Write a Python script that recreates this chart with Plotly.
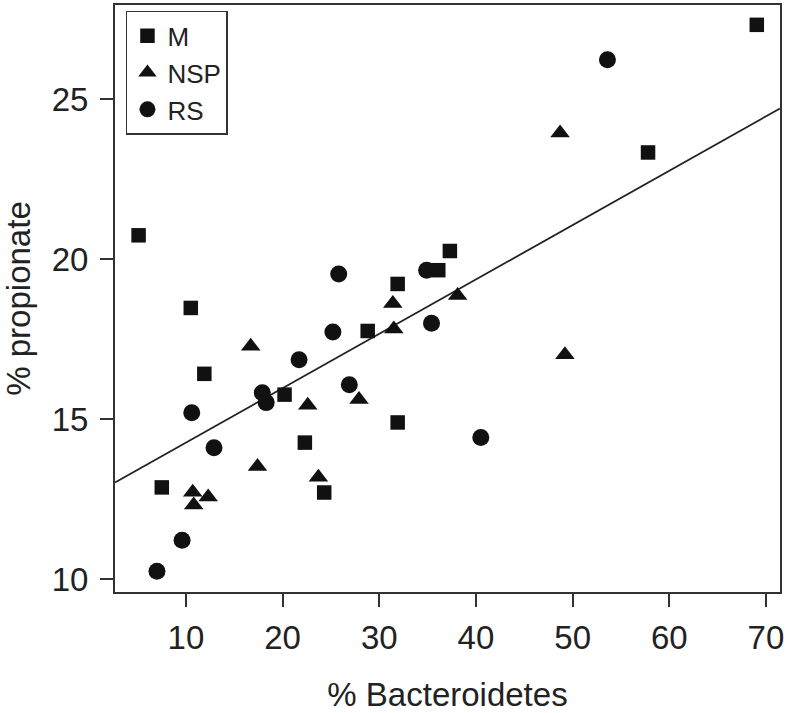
import plotly.graph_objects as go

# --- data ---
m_x = [5.1, 10.5, 11.9, 7.5, 20.2, 22.3, 24.3, 28.8, 31.9, 31.9, 36.1, 37.3, 57.8, 69.05]
m_y = [20.75, 18.48, 16.42, 12.87, 15.77, 14.27, 12.71, 17.76, 19.23, 14.9, 19.66, 20.26, 23.34, 27.33]

nsp_x = [10.7, 10.8, 12.3, 16.7, 17.4, 22.6, 23.7, 27.9, 31.4, 31.5, 38.1, 48.7, 49.2]
nsp_y = [12.72, 12.32, 12.57, 17.28, 13.52, 15.44, 13.19, 15.62, 18.62, 17.82, 18.87, 23.95, 17.02]

rs_x = [7.0, 9.6, 10.6, 12.9, 17.9, 18.3, 21.7, 25.2, 25.8, 26.9, 34.9, 35.4, 40.5, 53.6]
rs_y = [10.25, 11.22, 15.2, 14.11, 15.83, 15.52, 16.86, 17.73, 19.54, 16.08, 19.66, 18.0, 14.43, 26.24]

fit_intercept = 12.57
fit_slope = 0.17

x_range = [2.66, 71.45]
y_range = [9.6, 27.95]
x_ticks = [10, 20, 30, 40, 50, 60, 70]
y_ticks = [10, 15, 20, 25]

FONT = "Liberation Sans, Arial, sans-serif"
INK = "#111111"
FRAME = "#333333"

fig = go.Figure()
fig.add_trace(go.Scatter(
    x=x_range, y=[fit_intercept + fit_slope * v for v in x_range],
    mode="lines", line=dict(color="#222222", width=1.8),
    showlegend=False, hoverinfo="skip"))
fig.add_trace(go.Scatter(x=m_x, y=m_y, mode="markers", name="M",
                         marker=dict(symbol="square", size=14.5, color=INK)))
fig.add_trace(go.Scatter(x=nsp_x, y=nsp_y, mode="markers", name="NSP",
                         marker=dict(symbol="triangle-up", size=17, color=INK)))
fig.add_trace(go.Scatter(x=rs_x, y=rs_y, mode="markers", name="RS",
                         marker=dict(symbol="circle", size=17, color=INK)))

axis_common = dict(showline=True, linecolor=FRAME, linewidth=2, mirror=True,
                   ticks="outside", ticklen=13, tickwidth=2, tickcolor=FRAME,
                   showgrid=False, zeroline=False,
                   tickfont=dict(family=FONT, size=33, color="#222222"))

fig.update_layout(
    width=789, height=713,
    margin=dict(l=115, r=9, t=3, b=121),
    paper_bgcolor="white", plot_bgcolor="white",
    font=dict(family=FONT, color="#222222"),
    xaxis=dict(range=x_range, tickvals=x_ticks, ticklabelstandoff=2,
               title=dict(text="% Bacteroidetes", font=dict(family=FONT, size=33), standoff=28),
               **axis_common),
    yaxis=dict(range=y_range, tickvals=y_ticks, ticklabelstandoff=5,
               title=dict(text="% propionate", font=dict(family=FONT, size=33), standoff=20),
               **axis_common),
    legend=dict(x=0.0165, y=0.99, xanchor="left", yanchor="top",
                bgcolor="white", bordercolor=FRAME, borderwidth=1.5,
                font=dict(family=FONT, size=26, color="#222222"),
                itemsizing="trace", tracegroupgap=0),
)

fig.write_html("out.html", config={"displayModeBar": False},
               post_script="document.body.style.margin='0px';")
